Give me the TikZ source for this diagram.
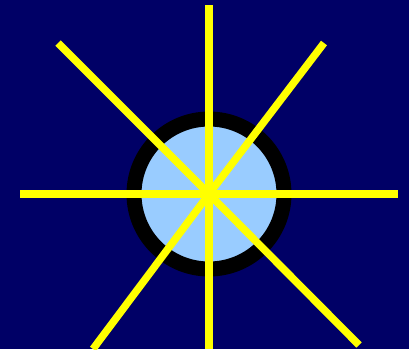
\documentclass[tikz,border=0pt]{standalone}
\usepackage{tikz}
\definecolor{nightblue}{RGB}{0,0,102}
\definecolor{ballblue}{RGB}{153,204,255}
\definecolor{rayyellow}{RGB}{255,255,0}

\begin{document}
\begin{tikzpicture}[x=1pt,y=-1pt]
        \useasboundingbox (0,0) rectangle (409,349);
        \fill[nightblue] (0,0) rectangle (409,349);
        \coordinate (hub) at (209,194);
        \filldraw[fill=ballblue,draw=black,line width=15pt] (hub) circle (75pt);
        \foreach \x/\y in {209/5, 209/349, 20/194, 398/194, 58/43, 359/345, 324/43, 93/349}
          \draw[rayyellow,line width=7.5pt] (hub) -- (\x,\y);
      \end{tikzpicture}
\end{document}
